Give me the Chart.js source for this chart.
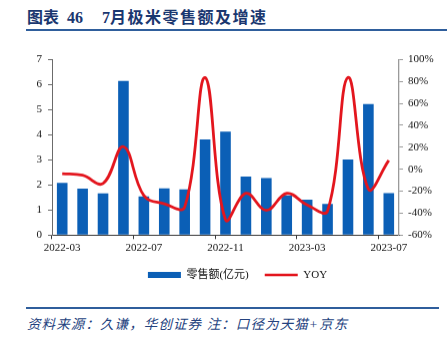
<!DOCTYPE html>
<html>
<head>
<meta charset="utf-8">
<script src="https://cdn.jsdelivr.net/npm/chart.js@4/dist/chart.umd.min.js"></script>
<style>
  html, body { margin: 0; padding: 0; background: #fff; }
  #page { position: relative; width: 447px; height: 348px; overflow: hidden; background: #fff; }
  #title {
    position: absolute; left: 27px; top: 8px; height: 20px; line-height: 20px;
    font-family: "Liberation Serif", "Noto Sans CJK SC", serif; font-weight: bold;
    font-size: 16px; color: #1A3770; white-space: nowrap;
  }
  #title .cn { letter-spacing: 1.5px; }
  #rule-top { position: absolute; left: 26px; right: 0; top: 29px; height: 2px; background: #2F5E9C; }
  #rule-bottom { position: absolute; left: 26px; width: 413px; top: 307px; height: 2px; background: #2F5E9C; }
  #source {
    position: absolute; left: 27px; top: 317px; line-height: 16px;
    font-family: "Liberation Serif", "Noto Sans CJK SC", serif; font-style: italic;
    font-size: 13.5px; letter-spacing: 1.1px; color: #24427E; white-space: nowrap;
  }
  #chart-box { position: absolute; left: 28px; top: 40px; width: 419px; height: 249.5px; }
</style>
</head>
<body>
<div id="page">
  <div id="title"><span>图表</span><span style="margin-left:8px">46</span><span style="margin-left:19px">7</span><span class="cn">月极米零售额及增速</span></div>
  <div id="rule-top"></div>
  <div id="chart-box"><canvas id="c"></canvas></div>
  <div id="rule-bottom"></div>
  <div id="source">资料来源：久谦，华创证券 注：口径为天猫+京东</div>
</div>
<script>
// Monthly categories
const months = ['2022-03','2022-04','2022-05','2022-06','2022-07','2022-08','2022-09','2022-10','2022-11','2022-12',
                '2023-01','2023-02','2023-03','2023-04','2023-05','2023-06','2023-07'];
// Retail sales, 100 million yuan
const retailSales = [2.08, 1.85, 1.66, 6.14, 1.54, 1.86, 1.82, 3.81, 4.12, 2.33, 2.27, 1.58, 1.41, 1.24, 3.01, 5.22, 1.67];
// Year-over-year growth, %
const yoyGrowth = [-4, -5.5, -13, 20.5, -24, -31.5, -34.5, 83.5, -46, -22, -37.5, -22, -32.5, -38, 83.5, -18, 8];
// Axis ranges
const salesTicks = { min: 0, max: 7, step: 1 };
const yoyTicks = { min: -60, max: 100, step: 20 };

const LABEL_EVERY = 4;
const barColor = '#0B5FB6';
const lineColor = '#E3161E';
const tickFont = { family: '"Liberation Serif", "Noto Sans CJK SC", serif', size: 11 };

new Chart(document.getElementById('c'), {
  data: {
    labels: months,
    datasets: [
      {
        type: 'bar',
        label: '零售额(亿元)',
        data: retailSales,
        yAxisID: 'y',
        backgroundColor: barColor,
        borderWidth: 0,
        categoryPercentage: 1,
        barPercentage: 0.52,
        order: 2
      },
      {
        type: 'line',
        label: 'YOY',
        data: yoyGrowth,
        yAxisID: 'y1',
        borderColor: lineColor,
        backgroundColor: lineColor,
        borderWidth: 2.8,
        pointRadius: 0,
        tension: 0.4,
        fill: false,
        order: 1
      }
    ]
  },
  options: {
    responsive: true,
    maintainAspectRatio: false,
    animation: false,
    devicePixelRatio: 1,
    layout: { padding: { top: 19.3, bottom: 0, left: 0, right: 0 } },
    plugins: {
      tooltip: { enabled: false },
      legend: {
        position: 'bottom',
        labels: {
          font: { family: '"Liberation Serif", "Noto Sans CJK SC", serif', size: 11 },
          color: '#111',
          usePointStyle: true,
          pointStyleWidth: 33,
          boxHeight: 6,
          padding: 16,
          generateLabels: (chart) => chart.data.datasets.map((ds, i) => ({
            text: ds.label,
            fillStyle: ds.type === 'bar' ? ds.backgroundColor : ds.borderColor,
            strokeStyle: ds.type === 'bar' ? ds.backgroundColor : ds.borderColor,
            lineWidth: ds.type === 'bar' ? 0 : 2.5,
            pointStyle: ds.type === 'bar' ? 'rect' : 'line',
            hidden: false,
            datasetIndex: i,
            fontColor: '#111'
          }))
        }
      }
    },
    scales: {
      x: {
        offset: true,
        afterFit: (s) => { s.height = 18.2; },
        border: { display: true, color: '#3a3a3a', width: 1 },
        grid: {
          offset: true,
          drawOnChartArea: false,
          drawTicks: true,
          tickLength: 4,
          tickColor: (ctx) => (ctx.index % LABEL_EVERY === 0 ? '#3a3a3a' : 'rgba(0,0,0,0)')
        },
        ticks: {
          autoSkip: false,
          maxRotation: 0,
          padding: 2,
          font: tickFont,
          color: '#111',
          callback: function (value, index) {
            return index % LABEL_EVERY === 0 ? this.getLabelForValue(value) : '';
          }
        }
      },
      y: {
        position: 'left',
        min: salesTicks.min,
        max: salesTicks.max,
        afterFit: (s) => { s.width = 24; },
        border: { display: true, color: '#6b6b6b', width: 1 },
        grid: { drawOnChartArea: false, drawTicks: true, tickLength: 4, tickColor: '#6b6b6b' },
        ticks: { stepSize: salesTicks.step, padding: 6, font: tickFont, color: '#111' }
      },
      y1: {
        position: 'right',
        min: yoyTicks.min,
        max: yoyTicks.max,
        afterFit: (s) => { s.width = 48; },
        border: { display: true, color: '#9a9a9a', width: 1.3 },
        grid: { drawOnChartArea: false, drawTicks: true, tickLength: 4, tickColor: '#9a9a9a' },
        ticks: { stepSize: yoyTicks.step, padding: 5, font: tickFont, color: '#111', callback: (v) => v + '%' }
      }
    }
  }
});
</script>
</body>
</html>
